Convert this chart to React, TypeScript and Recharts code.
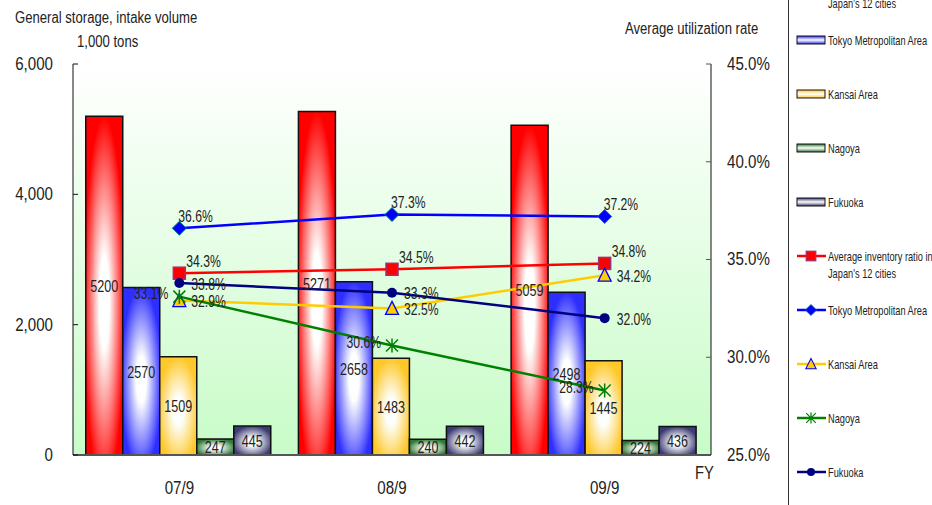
import React from 'react';
import { ComposedChart, Bar, Line, XAxis, YAxis, CartesianGrid, LabelList } from 'recharts';

const FONT = "'Liberation Sans', Arial, sans-serif";

const years = ['07/9', '08/9', '09/9'];

// storage / intake volume, 1,000 tons
const volAvg = [5200, 5271, 5059];
const volTokyo = [2570, 2658, 2498];
const volKansai = [1509, 1483, 1445];
const volNagoya = [247, 240, 224];
const volFukuoka = [445, 442, 436];

// average utilization rate, %
const rateAvg = [34.3, 34.5, 34.8];
const rateTokyo = [36.6, 37.3, 37.2];
const rateKansai = [32.9, 32.5, 34.2];
const rateNagoya = [33.1, 30.6, 28.3];
const rateFukuoka = [33.8, 33.3, 32.0];

const leftTicks = [0, 2000, 4000, 6000];
const rightTicks = [25, 30, 35, 40, 45];

const data = years.map((fy, i) => ({
  fy,
  vAvg: volAvg[i],
  vTokyo: volTokyo[i],
  vKansai: volKansai[i],
  vNagoya: volNagoya[i],
  vFukuoka: volFukuoka[i],
  rAvg: rateAvg[i],
  rTokyo: rateTokyo[i],
  rKansai: rateKansai[i],
  rNagoya: rateNagoya[i],
  rFukuoka: rateFukuoka[i],
}));

const bars = [
  { key: 'vAvg', name: 'Average inventory ratio in Japan\'s 12 cities', id: 'gRed', edge: '#ff0000' },
  { key: 'vTokyo', name: 'Tokyo Metropolitan Area', id: 'gBlue', edge: '#2e2eff' },
  { key: 'vKansai', name: 'Kansai Area', id: 'gYellow', edge: '#ffc82a' },
  { key: 'vNagoya', name: 'Nagoya', id: 'gGreen', edge: '#2f7a35' },
  { key: 'vFukuoka', name: 'Fukuoka', id: 'gNavy', edge: '#3c3c74' },
];

// condensed text: Liberation Sans squeezed horizontally, like Arial Narrow
const NText = ({ x, y, size, sx = 0.82, anchor = 'start', children }: any) => (
  <text transform={`translate(${x},${y}) scale(${sx},1)`} x={0} y={0} textAnchor={anchor}
    dominantBaseline="central" fontFamily={FONT} fontSize={size} fill="#222">{children}</text>
);

type MarkerProps = { cx: number; cy: number };

const Square = ({ cx, cy }: MarkerProps) => (
  <rect x={cx - 6} y={cy - 6} width={12} height={12} fill="#ff0000" stroke="#993377" strokeWidth={1.5} />
);
const Diamond = ({ cx, cy }: MarkerProps) => (
  <path d={`M${cx},${cy - 7}L${cx + 7},${cy}L${cx},${cy + 7}L${cx - 7},${cy}Z`} fill="#0000ff" stroke="#008080" strokeWidth={1} />
);
const Triangle = ({ cx, cy }: MarkerProps) => (
  <path d={`M${cx},${cy - 7}L${cx + 6.5},${cy + 6}L${cx - 6.5},${cy + 6}Z`} fill="#ffcc00" stroke="#0000ff" strokeWidth={1.3} />
);
const Star = ({ cx, cy }: MarkerProps) => (
  <path d={`M${cx - 6},${cy - 6}L${cx + 6},${cy + 6}M${cx + 6},${cy - 6}L${cx - 6},${cy + 6}M${cx},${cy - 7}L${cx},${cy + 7}`} stroke="#008000" strokeWidth={1.5} fill="none" />
);
const Dot = ({ cx, cy }: MarkerProps) => <circle cx={cx} cy={cy} r={5} fill="#000080" />;

const lines = [
  { key: 'rAvg', name: 'Average inventory ratio in Japan\'s 12 cities', color: '#ff0000', Marker: Square, dx: 7, dy: -12, anchor: 'start' },
  { key: 'rTokyo', name: 'Tokyo Metropolitan Area', color: '#0000ff', Marker: Diamond, dx: -1, dy: -12, anchor: 'start' },
  { key: 'rKansai', name: 'Kansai Area', color: '#ffcc00', Marker: Triangle, dx: 12, dy: 1, anchor: 'start' },
  { key: 'rNagoya', name: 'Nagoya', color: '#008000', Marker: Star, dx: -11, dy: -3, anchor: 'end' },
  { key: 'rFukuoka', name: 'Fukuoka', color: '#000080', Marker: Dot, dx: 12, dy: 1, anchor: 'start' },
];

const barLabel = (props: any) => {
  const { x, y, width, height, value } = props;
  return <NText x={x + width / 2} y={y + height / 2} size={17} sx={0.74} anchor="middle">{value}</NText>;
};

const lineLabel = (dx: number, dy: number, anchor: string) => (props: any) => {
  const { x, y, value } = props;
  return <NText x={x + dx} y={y + dy} size={16} sx={0.76} anchor={anchor}>{Number(value).toFixed(1)}%</NText>;
};

const AxisTick = (fmt: (v: any) => string, dy = 0) => (props: any) => {
  const { x, y, payload, textAnchor } = props;
  return <NText x={x} y={y + dy} size={18} sx={0.84} anchor={textAnchor}>{fmt(payload.value)}</NText>;
};

const legendRows = [
  { kind: 'bar', i: 0, y: -14 },
  { kind: 'bar', i: 1, y: 40 },
  { kind: 'bar', i: 2, y: 94 },
  { kind: 'bar', i: 3, y: 148 },
  { kind: 'bar', i: 4, y: 202 },
  { kind: 'line', i: 0, y: 256 },
  { kind: 'line', i: 1, y: 310 },
  { kind: 'line', i: 2, y: 364 },
  { kind: 'line', i: 3, y: 418 },
  { kind: 'line', i: 4, y: 472 },
];

const LegendText = ({ y, name }: { y: number; name: string }) => {
  const parts = name.startsWith('Average') ? ['Average inventory ratio in', 'Japan\'s 12 cities'] : [name];
  return (
    <>
      {parts.map((t, k) => (
        <NText key={k} x={828} y={y + k * 17} size={12.5} sx={0.74}>{t}</NText>
      ))}
    </>
  );
};

export default function App() {
  return (
    <div style={{ position: 'absolute', left: 0, top: 0, width: 932, height: 505, background: '#fff' }}>
      <ComposedChart width={932} height={505} data={data}
        margin={{ top: 64, right: 151, bottom: 0, left: 13 }}
        barCategoryGap="6%" barGap={0}>
        <defs>
          <linearGradient id="bgPlot" x1="0" y1="0" x2="0" y2="1">
            <stop offset="0%" stopColor="#ffffff" />
            <stop offset="100%" stopColor="#c8fcc8" />
          </linearGradient>
          {bars.map((b) => (
            <radialGradient key={b.id} id={b.id} cx="0.5" cy="0.55" r="0.55">
              <stop offset="0%" stopColor="#ffffff" />
              <stop offset="25%" stopColor="#ffffff" stopOpacity={0.95} />
              <stop offset="100%" stopColor={b.edge} />
            </radialGradient>
          ))}
        </defs>
        <CartesianGrid horizontal={false} vertical={false} fill="url(#bgPlot)" />
        <XAxis dataKey="fy" tickLine={false} tickSize={0} tickMargin={0}
          axisLine={{ stroke: '#555', strokeWidth: 2 }}
          tick={AxisTick((v) => String(v), 33)} height={50} />
        <YAxis yAxisId="left" width={60} domain={[0, 6000]} ticks={leftTicks}
          tickSize={-5} tickMargin={25}
          axisLine={{ stroke: '#111' }} tickLine={{ stroke: '#111' }}
          tick={AxisTick((v: number) => v.toLocaleString('en-US'))} />
        <YAxis yAxisId="right" orientation="right" width={70} domain={[25, 45]} ticks={rightTicks}
          tickSize={-5} tickMargin={21}
          axisLine={{ stroke: '#111' }} tickLine={{ stroke: '#555' }}
          tick={AxisTick((v: number) => `${v.toFixed(1)}%`)} />
        {bars.map((b) => (
          <Bar key={b.key} yAxisId="left" dataKey={b.key} name={b.name} fill={`url(#${b.id})`}
            stroke="#111" strokeWidth={1.5} isAnimationActive={false}>
            <LabelList dataKey={b.key} content={barLabel} />
          </Bar>
        ))}
        {lines.map((l) => (
          <Line key={l.key} yAxisId="right" type="linear" dataKey={l.key} name={l.name}
            stroke={l.color} strokeWidth={2.5} isAnimationActive={false}
            dot={(p: any) => <l.Marker key={`${l.key}-${p.index}`} cx={p.cx} cy={p.cy} />}
            activeDot={false}>
            <LabelList dataKey={l.key} content={lineLabel(l.dx, l.dy, l.anchor)} />
          </Line>
        ))}
      </ComposedChart>

      <svg width={932} height={505} style={{ position: 'absolute', left: 0, top: 0, pointerEvents: 'none' }}>
        <defs>
          {bars.map((b) => (
            <linearGradient key={b.id} id={`lg-${b.id}`} x1="0" y1="0" x2="0" y2="1">
              <stop offset="0%" stopColor={b.edge} />
              <stop offset="50%" stopColor="#ffffff" />
              <stop offset="100%" stopColor={b.edge} />
            </linearGradient>
          ))}
        </defs>
        <NText x={15} y={18} size={16}>General storage, intake volume</NText>
        <NText x={77} y={42} size={16}>1,000 tons</NText>
        <NText x={625} y={29} size={16}>Average utilization rate</NText>
        <NText x={695} y={472} size={18}>FY</NText>

        <line x1={788.5} y1={0} x2={788.5} y2={505} stroke="#333" strokeWidth={1} />
        {legendRows.map((r, k) => {
          if (r.kind === 'bar') {
            const b = bars[r.i];
            return (
              <g key={k}>
                <rect x={797} y={r.y - 4} width={28} height={8} fill={`url(#lg-${b.id})`} stroke="#111" strokeWidth={1} />
                <LegendText y={r.y} name={b.name} />
              </g>
            );
          }
          const l = lines[r.i];
          return (
            <g key={k}>
              <line x1={797} y1={r.y} x2={826} y2={r.y} stroke={l.color} strokeWidth={2.5} />
              <g transform={`translate(${811},${r.y}) scale(0.8) translate(${-811},${-r.y})`}>
                <l.Marker cx={811} cy={r.y} />
              </g>
              <LegendText y={r.y} name={l.name} />
            </g>
          );
        })}
      </svg>
    </div>
  );
}
